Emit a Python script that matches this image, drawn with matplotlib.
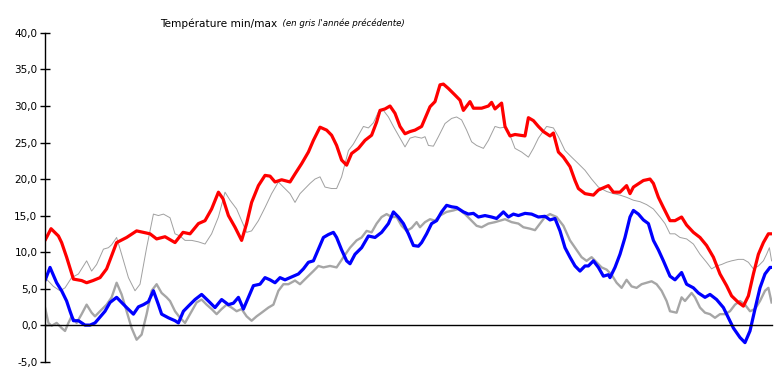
import matplotlib.pyplot as plt
from matplotlib.ticker import FuncFormatter, MultipleLocator

plt.rcParams['font.family'] = ['DejaVu Sans']

# current year, daily max (red)
max_days = [0, 3, 6.7, 8.3, 10.8, 14.2, 18.3, 20.8, 24, 27.5, 30.8, 35.8, 40.8, 45.8, 52.5, 55.8,
            60, 65, 69, 72.5, 76.7, 80, 83.3, 86.7, 89, 91.7, 95, 98.3, 100.8, 103.3, 106.7, 110,
            112.5, 115, 118.3, 122.5, 125, 128.3, 131.7, 134.2, 137.5, 140.8, 143.3, 145.8, 148.3,
            150.8, 153.3, 156.7, 160, 163.3, 165.8, 167.5, 170, 172.5, 175, 177.5, 180, 182.5, 185,
            188.3, 192.5, 195, 197.5, 199.2, 201.7, 205, 207.5, 209.2, 212.5, 214.2, 218.3, 221.7,
            223.3, 225, 228.3, 230, 232.5, 235, 240, 241.7, 244.2, 246.7, 249.2, 252.5, 254.2,
            256.7, 259.2, 262.5, 265, 266.7, 270, 274.2, 276.7, 281.7, 284.2, 287.5, 290.8, 292.5,
            294.2, 299.2, 302.5, 304.2, 306.7, 309.2, 312.5, 315, 318.3, 320.8, 324.2, 327.5, 330.8,
            334.2, 337.5, 340.8, 343.3, 346.7, 349.2, 351.7, 354.2, 356.7, 359.2, 361.7, 363.3]
max_vals = [11.6, 13.2, 12.2, 11.3, 9.3, 6.3, 6.1, 5.8, 6.1, 6.5, 7.7, 11.3, 12.0, 12.9, 12.5, 11.8,
            12.1, 11.3, 12.7, 12.5, 13.9, 14.3, 15.9, 18.2, 17.3, 15.0, 13.4, 11.6, 13.9, 16.8, 19.1, 20.5,
            20.4, 19.6, 19.9, 19.6, 20.7, 22.1, 23.7, 25.3, 27.1, 26.7, 26.0, 24.6, 22.6,
            21.9, 23.5, 24.2, 25.3, 26.0, 27.8, 29.4, 29.6, 30.0, 29.0, 27.2, 26.2, 26.5, 26.7,
            27.2, 29.9, 30.6, 32.9, 33.0, 32.4, 31.5, 30.8, 29.4, 30.6, 29.7, 29.7, 30.0,
            30.5, 29.6, 30.4, 27.2, 25.9, 26.1, 25.9, 28.4, 28.0, 27.2, 26.5, 25.9, 26.3,
            23.7, 23.0, 21.7, 19.8, 18.7, 18.0, 17.8, 18.5, 19.1, 18.2, 18.2, 19.1, 18.0,
            18.9, 19.8, 20.0, 19.4, 17.5, 16.1, 14.3, 14.3, 14.8, 13.7, 12.7, 12.0, 10.9,
            9.3, 7.0, 5.4, 4.0, 3.1, 2.6, 4.0, 7.0, 9.7, 11.3, 12.5, 12.5]

# current year, daily min (blue)
min_days = [0, 2.5, 5.8, 8.3, 10.8, 12.5, 14.2, 16.7, 20, 22.5, 25, 27.5, 30, 32.5, 35.8, 38.3,
            40.8, 44.2, 46.7, 49.2, 51.7, 54.2, 56.7, 58.3, 61.7, 65, 66.7, 69.2, 71.7, 75, 78.3,
            81.7, 85, 88.3, 91.7, 94.2, 96.7, 99.2, 101.7, 104.2, 107.5, 110, 112.5, 115, 117.5,
            120, 122.5, 126.7, 129.2, 131.7, 134.2, 136.7, 139.2, 141.7, 144.2, 145.8, 148.3, 150.8,
            152.5, 155, 158.3, 161.7, 165, 168.3, 171.7, 174.2, 176.7, 179.2, 181.7, 184.2, 186.7,
            188.3, 190.8, 193.3, 195.8, 198.3, 200.8, 203.3, 205.8, 209.2, 211.7, 214.2, 216.7, 220,
            223.3, 225.8, 229.2, 231.7, 234.2, 236.7, 240, 243.3, 246.7, 250, 252.5, 255, 257.5,
            260, 262.5, 265, 267.5, 270, 271.7, 274.2, 276.7, 279.2, 281.7, 282.5, 285, 287.5, 290,
            292.5, 294.2, 296.7, 299.2, 301.7, 304.2, 306.7, 309.2, 312.5, 315, 318.3, 320.8,
            324.2, 326.7, 330, 332.5, 335.8, 339.2, 341.7, 344.2, 347.5, 350, 352.5, 355, 357.5,
            360, 362.5, 363.3]
min_vals = [6.1, 7.9, 5.8, 4.7, 3.3, 1.9, 0.6, 0.6, 0.0, 0.0, 0.3, 1.1, 1.9, 3.1, 3.8, 3.1,
            2.4, 1.5, 2.5, 2.8, 3.2, 4.7, 2.8, 1.5, 1.0, 0.6, 0.3, 1.9, 2.6, 3.5, 4.2,
            3.3, 2.4, 3.5, 2.8, 3.0, 3.8, 2.2, 3.8, 5.4, 5.6, 6.5, 6.2, 5.8, 6.5,
            6.2, 6.5, 7.0, 7.7, 8.6, 8.8, 10.4, 12.0, 12.4, 12.7, 12.0, 10.3, 8.8,
            8.4, 9.7, 10.6, 12.2, 12.0, 12.7, 13.9, 15.5, 14.8, 13.9, 12.5, 10.9, 10.8,
            11.3, 12.5, 13.9, 14.3, 15.5, 16.4, 16.2, 16.1, 15.5, 15.2, 15.3, 14.8, 15.0,
            14.8, 14.6, 15.5, 14.8, 15.2, 15.0, 15.3, 15.2, 14.8, 14.9, 14.4, 14.6, 12.9,
            10.6, 9.3, 8.1, 7.4, 8.1, 8.1, 8.8, 7.9, 6.7, 6.9, 6.5, 7.9, 9.7, 12.0,
            14.8, 15.7, 15.2, 14.4, 13.9, 11.6, 10.3, 8.8, 6.7, 6.2, 7.2, 5.6,
            5.1, 4.4, 3.8, 4.2, 3.5, 2.4, 1.0, -0.4, -1.7, -2.4, -0.8, 2.2, 5.1,
            7.0, 7.9, 7.9]

# previous year, daily max (thin grey)
prev_max_days = [0, 4.2, 7.5, 10, 13.3, 16.7, 20.8, 23.3, 25.8, 29.2, 31.7, 33.3, 35.8, 38.3, 41.7,
                 45, 47.5, 50.8, 54.2, 56.7, 59.2, 62.5, 65, 67.5, 70, 73.3, 76.7, 80, 83.3, 86.7,
                 90, 92.5, 95.8, 98.3, 100.8, 103.3, 106.7, 110, 113.3, 116.7, 119.2, 122.5, 125,
                 127.5, 130, 132.5, 135, 137.5, 140, 143.3, 145.8, 148.3, 151.7, 154.2, 156.7, 159.2,
                 161.7, 164.2, 166.7, 169.2, 171.7, 174.2, 177.5, 180, 182.5, 185, 188.3, 190, 191.7,
                 194.2, 196.7, 200, 203.3, 205.8, 208.3, 210.8, 213.3, 215.8, 219.2, 221.7, 225,
                 227.5, 230, 232.5, 235, 238.3, 241.7, 244.2, 246.7, 250.8, 254.2, 256.7, 260,
                 263.3, 266.7, 270, 273.3, 276.7, 280.8, 284.2, 287.5, 290.8, 294.2, 297.5, 300.8,
                 304.2, 307.5, 310, 312.5, 315, 317.5, 320.8, 324.2, 327.5, 330.8, 333.3, 335.8,
                 338.3, 340.8, 343.3, 346.7, 349.2, 351.7, 354.2, 356.7, 359.2, 360.8, 362.2, 363.3]
prev_max_vals = [6.5, 5.3, 4.7, 5.1, 6.5, 7.0, 8.8, 7.4, 8.3, 10.4, 10.6, 11.0, 12.0, 9.7, 6.5,
                 4.7, 5.6, 10.6, 15.2, 15.0, 15.2, 14.7, 12.5, 12.2, 11.6, 11.6, 11.4, 11.1, 12.5, 14.8,
                 18.2, 17.1, 15.9, 14.3, 12.7, 12.9, 14.3, 16.1, 18.0, 19.6, 18.9, 18.0, 16.8,
                 18.0, 18.7, 19.4, 20.0, 20.3, 18.9, 18.7, 18.7, 20.3, 23.9, 24.8, 26.0, 27.2,
                 27.0, 27.7, 29.2, 29.4, 28.5, 27.2, 25.6, 24.4, 25.6, 25.8, 25.6, 25.8, 24.6,
                 24.5, 25.8, 27.6, 28.3, 28.5, 28.1, 26.7, 25.1, 24.6, 24.2, 25.3, 27.2,
                 27.0, 27.1, 26.0, 24.2, 23.7, 23.0, 24.2, 25.6, 27.2, 27.0, 25.8, 23.9,
                 23.0, 22.1, 21.2, 20.0, 18.9, 18.3, 18.0, 17.8, 17.5, 17.1, 16.9, 16.5,
                 15.9, 14.8, 13.9, 12.5, 12.5, 12.0, 11.8, 11.1, 9.7, 8.6, 7.7, 8.1,
                 8.3, 8.6, 8.8, 9.0, 9.0, 8.6, 7.7, 8.1, 8.8, 9.7, 10.6, 8.8]

# previous year, daily min (thick grey)
prev_min_days = [0, 1.7, 3.3, 5.8, 8.3, 10, 11.7, 13.3, 15.8, 18.3, 20.8, 23.3, 25, 27.5, 30.8, 33.3,
                 35.8, 38.3, 40.8, 43.3, 45.8, 48.3, 50.8, 53.3, 55.8, 58.3, 60.8, 62.5, 65, 67.5,
                 70, 72.5, 75.8, 78.3, 80.8, 83.3, 85.8, 88.3, 90.8, 93.3, 95.8, 98.3, 100.8, 103.3,
                 105.8, 108.3, 111.7, 114.2, 116.7, 119.2, 121.7, 125, 127.5, 130.8, 134.2, 136.7,
                 139.2, 142.5, 145.8, 149.2, 152.5, 155.8, 158.3, 160.8, 163.3, 165.8, 168.3, 170.8,
                 173.3, 175.8, 178.3, 180.8, 183.3, 185.8, 187.5, 190, 192.5, 195, 197.5, 200.8,
                 204.2, 206.7, 210, 213.3, 215.8, 218.3, 221.7, 225, 227.5, 230, 233.3, 236.7,
                 239.2, 242.5, 245, 247.5, 250, 252.5, 255.8, 259.2, 262.5, 265.8, 268.3, 270.8,
                 273.3, 275.8, 278.3, 280.8, 283.3, 285.8, 288.3, 290.8, 293.3, 295.8, 298.3, 300.8,
                 303.3, 305.8, 308.3, 310.8, 312.5, 315.8, 318.3, 320, 323.3, 325, 327.5, 330,
                 332.5, 335, 337.5, 340, 342.5, 345, 347.5, 350, 352.5, 355, 357.5, 360, 361.7, 363.3]
prev_min_vals = [2.4, 0.3, -0.1, 0.3, -0.4, -0.8, 0.3, 1.2, 0.3, 1.5, 2.8, 1.7, 1.2, 1.9, 2.8, 3.8,
                 5.8, 4.2, 1.9, -0.4, -2.0, -1.3, 1.5, 4.7, 5.6, 4.4, 3.8, 3.3, 1.9, 1.0,
                 0.3, 1.5, 3.1, 3.5, 2.8, 2.2, 1.5, 2.2, 2.8, 2.4, 1.9, 2.2, 1.2, 0.6,
                 1.2, 1.7, 2.4, 2.8, 4.7, 5.6, 5.6, 6.1, 5.6, 6.5, 7.4, 8.1,
                 7.9, 8.1, 7.9, 9.3, 10.6, 11.6, 12.0, 12.9, 12.7, 13.9, 14.8, 15.2,
                 14.8, 14.8, 13.6, 12.9, 13.3, 14.1, 13.4, 14.1, 14.5, 14.3, 15.0, 15.5,
                 15.7, 15.9, 15.2, 14.3, 13.6, 13.4, 13.9, 14.1, 14.3, 14.5, 14.1, 13.9,
                 13.4, 13.2, 13.0, 13.9, 14.8, 15.2, 14.8, 13.6, 11.6, 10.3, 9.3, 8.8,
                 9.3, 8.6, 7.9, 7.6, 6.9, 5.8, 5.1, 6.2, 5.3, 5.1, 5.6, 5.8,
                 6.0, 5.6, 4.7, 3.3, 1.9, 1.7, 3.8, 3.3, 4.4, 3.8, 2.4, 1.7,
                 1.5, 1.0, 1.5, 1.5, 1.9, 2.8, 3.3, 2.8, 1.9, 2.2, 3.3, 4.7, 5.1, 3.1]

fig = plt.figure(figsize=(7.79, 3.88), dpi=100)
ax = fig.add_axes([0.0578, 0.068, 0.9332, 0.847])

ax.plot(prev_max_days, prev_max_vals, color='#a0a0a0', lw=0.7)
ax.plot(prev_min_days, prev_min_vals, color='#a6a6a6', lw=1.7)
ax.plot(max_days, max_vals, color='#ff0000', lw=2.3, solid_capstyle='round')
ax.plot(min_days, min_vals, color='#0000ff', lw=2.3, solid_capstyle='round')

ax.set_xlim(0, 363.5)
ax.set_ylim(-5, 40)
ax.yaxis.set_major_locator(MultipleLocator(5))
ax.yaxis.set_major_formatter(FuncFormatter(lambda v, p: f"{v:.1f}".replace('.', ',')))
ax.tick_params(axis='y', direction='inout', length=7, width=1, labelsize=7.5, pad=2)
ax.tick_params(axis='x', length=0, labelbottom=False)

ax.spines['top'].set_visible(False)
ax.spines['right'].set_visible(False)
ax.spines['bottom'].set_position(('data', 0))
ax.spines['left'].set_linewidth(1)
ax.spines['bottom'].set_linewidth(1)

# title in two parts, the second one smaller and italic
t1 = fig.text(0.205, 0.94, 'Température min/max', fontsize=7.6, ha='left', va='center')
ax.annotate("  (en gris l'année précédente)", xy=(1, 0.5), xycoords=t1,
            fontsize=6.2, style='italic', ha='left', va='center', annotation_clip=False)

fig.savefig('out.png', dpi=100)
